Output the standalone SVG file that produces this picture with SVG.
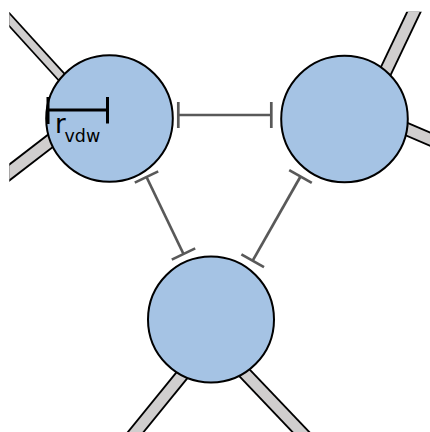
<svg xmlns="http://www.w3.org/2000/svg" width="430" height="432" viewBox="0 0 430 432">
<style>
.bo{stroke:#000;stroke-linecap:butt;fill:none}
.bi{stroke:#d0cece;stroke-linecap:butt;fill:none}
.atom{fill:#a5c3e4;stroke:#000;stroke-width:2}
.inh{stroke:#595959;stroke-width:2.7;fill:none;stroke-linecap:butt}
.lbl{font-family:"DejaVu Sans",sans-serif;fill:#000}
</style>
<defs>
<clipPath id="clip"><rect x="9.3" y="11.7" width="430" height="430"/></clipPath>
</defs>
<g id="bonds" clip-path="url(#clip)">
<line class="bo" x1="-10" y1="-1.7" x2="85" y2="102.8" stroke-width="10.5"/>
<line class="bi" x1="-10" y1="-1.7" x2="85" y2="102.8" stroke-width="7"/>
<line class="bo" x1="-10" y1="187.4" x2="80" y2="118.1" stroke-width="14.5"/>
<line class="bi" x1="-10" y1="187.4" x2="80" y2="118.1" stroke-width="10.8"/>
<line class="bo" x1="428.3" y1="-18.3" x2="375.9" y2="91.7" stroke-width="14"/>
<line class="bi" x1="428.3" y1="-18.3" x2="375.9" y2="91.7" stroke-width="10.3"/>
<line class="bo" x1="450" y1="147.8" x2="370" y2="113.4" stroke-width="14"/>
<line class="bi" x1="450" y1="147.8" x2="370" y2="113.4" stroke-width="10.3"/>
<line class="bo" x1="119.5" y1="452" x2="210.6" y2="340" stroke-width="14"/>
<line class="bi" x1="119.5" y1="452" x2="210.6" y2="340" stroke-width="10.3"/>
<line class="bo" x1="319.9" y1="452" x2="213.2" y2="340" stroke-width="14"/>
<line class="bi" x1="319.9" y1="452" x2="213.2" y2="340" stroke-width="10.3"/>
</g>
<g id="atom1">
<circle class="atom" cx="109.5" cy="118.5" r="63.3"/>
<g stroke="#000" stroke-width="3">
<line x1="47.5" y1="110" x2="107.5" y2="110"/>
<line x1="48" y1="97" x2="48" y2="124"/>
<line x1="107.5" y1="97" x2="107.5" y2="123.5"/>
</g>
<text class="lbl" font-size="26"><tspan x="55" y="133.3">r</tspan><tspan x="64.5" y="141.7" font-size="17.5">vdw</tspan></text>
</g>
<g id="atom2">
<circle class="atom" cx="344.5" cy="119" r="63.3"/>
</g>
<g id="atom3">
<circle class="atom" cx="211" cy="319.5" r="63"/>
</g>
<g id="connectors">
<line class="inh" x1="178.3" y1="115" x2="271.3" y2="115"/>
<line class="inh" x1="178.3" y1="102" x2="178.3" y2="128"/>
<line class="inh" x1="271.3" y1="102" x2="271.3" y2="128"/>
<line class="inh" x1="146.5" y1="177" x2="183.5" y2="254"/>
<line class="inh" x1="134.8" y1="182.6" x2="158.2" y2="171.4"/>
<line class="inh" x1="171.8" y1="259.6" x2="195.2" y2="248.4"/>
<line class="inh" x1="300.5" y1="176.5" x2="252.7" y2="260.7"/>
<line class="inh" x1="289.2" y1="170.1" x2="311.8" y2="182.9"/>
<line class="inh" x1="241.4" y1="254.3" x2="264" y2="267.1"/>
</g>
</svg>
